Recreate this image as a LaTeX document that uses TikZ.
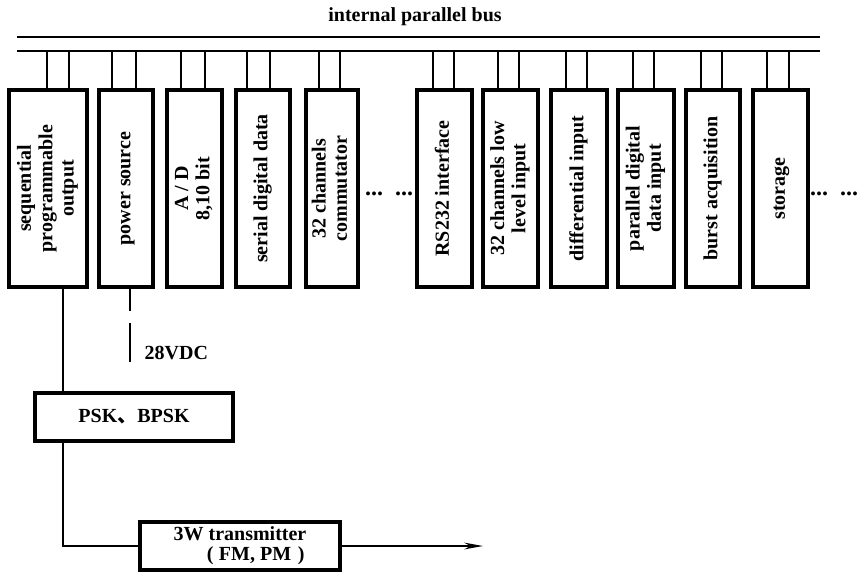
\documentclass[tikz,border=0pt]{standalone}
\usepackage{fontspec}
\setmainfont{Liberation Serif}
\newfontfamily\cjk{Noto Sans CJK SC}
\usetikzlibrary{arrows.meta}
\begin{document}
\begin{tikzpicture}[x=0.75pt,y=-0.75pt,
  txt/.style={font=\bfseries\fontsize{15}{16}\selectfont},
  box/.style={draw, line width=2.4pt, inner sep=0pt, txt, align=center},
  vbox/.style={box, minimum width={0.75pt*#1}, minimum height={0.75pt*197}},
  dotstyle/.style={font=\bfseries\fontsize{18}{18}\selectfont, anchor=base, inner sep=0pt},
  stub/.style={line width=1.5pt},
  busline/.style={line width=1.6pt},
  wire/.style={line width=1.6pt}]
\useasboundingbox (0,0) rectangle (862,576);
\newcommand{\vtext}[1]{\rotatebox{90}{\begin{tabular}{@{}c@{}}#1\end{tabular}}}

\node[txt] (lbl) at (415,17) {internal parallel bus};
\draw[busline] (17,37) -- (820,37);
\draw[busline] (17,51) -- (820,51);

\node[vbox=78] (b1) at (48,188.5) {\vtext{sequential\\programmable\\output}};
\node[vbox=54] (b2) at (126,188.5) {\vtext{power source}};
\node[vbox=55] (b3) at (194.5,188.5) {\vtext{A / D\\8,10 bit}};
\node[vbox=54] (b4) at (263,188.5) {\vtext{serial digital data}};
\node[vbox=52] (b5) at (332,188.5) {\vtext{32 channels\\commutator}};
\node[vbox=55] (b6) at (444.5,188.5) {\vtext{RS232 interface}};
\node[vbox=55] (b7) at (510.5,188.5) {\vtext{32 channels low\\level input}};
\node[vbox=56] (b8) at (579,188.5) {\vtext{differential input}};
\node[vbox=56] (b9) at (646,188.5) {\vtext{parallel digital\\data input}};
\node[vbox=54] (b10) at (713,188.5) {\vtext{burst acquisition}};
\node[vbox=55] (b11) at (780.5,188.5) {\vtext{storage}};

\foreach \b/\xa/\xb in {b1/47/69, b2/112/136, b3/181/205, b4/247/270, b5/319/340,
  b6/433/454, b7/498/519, b8/566/587, b9/633/654, b10/701/722, b11/767/789} {
  \draw[stub] (\xa,51) coordinate (sa) -- (sa |- \b.north);
  \draw[stub] (\xb,51) coordinate (sb) -- (sb |- \b.north);
}

\node[dotstyle] (dots1) at (389,195) {...\hspace{9pt}...};
\node[dotstyle] (dots2) at (834,195) {...\hspace{9pt}...};

\node[box, minimum width={0.75pt*198}, minimum height={0.75pt*48}] (psk) at (134,417) {PSK{\cjk 、}BPSK};
\node[box, minimum width={0.75pt*200}, minimum height={0.75pt*48}, align=left,
  font=\bfseries\fontsize{15}{15}\selectfont] (tx) at (240,546)
  {3W transmitter\\\hspace*{25pt}(\hspace{4pt}FM, PM\hspace{5pt})};

\path (b1.south) ++(15,0) coordinate (p1);
\draw[wire] (p1) -- (p1 |- psk.north);
\draw[wire] (p1 |- psk.south) |- (tx.west);

\path (b2.south) ++(4,0) coordinate (p2);
\coordinate (vdc) at (130,362);
\draw[wire, dash pattern=on 17pt off 9pt on 40pt] (p2) -- (p2 |- vdc);
\node[txt, anchor=west] (v) at (140,353) {28VDC};

\coordinate (out) at (483,546);
\draw[wire, -{Stealth[length=14pt,width=5pt]}] (tx.east) -- (out);
\end{tikzpicture}
\end{document}
